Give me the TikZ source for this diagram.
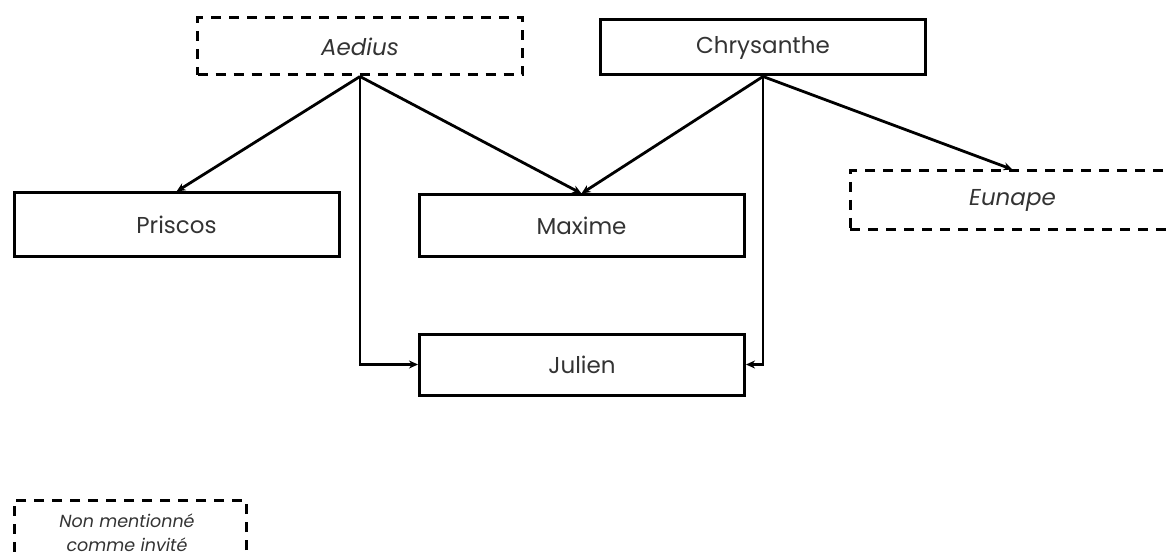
\documentclass[tikz,border=0pt]{standalone}
\usepackage{fontspec}
\setmainfont{Poppins}
\usetikzlibrary{arrows.meta}
\definecolor{txt}{HTML}{333333}
\tikzset{
  person/.style={draw=black, line width=3pt, minimum width=325pt, minimum height=60pt, inner sep=0pt, text=txt, font=\fontsize{23}{26}\selectfont},
  absent/.style={person, dash pattern=on 10pt off 8pt, font=\fontsize{23}{26}\selectfont\itshape},
  link/.style={line width=2.8pt, -{Stealth[length=9pt,width=8pt]}},
}
\begin{document}
\begin{tikzpicture}[x=1pt,y=-1pt]
\useasboundingbox (0,0) rectangle (1167,556);
\begin{scope}
\clip (0,0) rectangle (1167,556);
\node[absent, minimum height=57pt] (aedius) at (360,46.5) {Aedius};
\node[person, minimum height=55pt] (chrys) at (763,47.5) {Chrysanthe};
\node[person, minimum height=63pt] (priscos) at (176.5,224.5) {Priscos};
\node[person, minimum height=61pt] (maxime) at (581.5,225.5) {Maxime};
\node[absent, minimum height=59pt] (eunape) at (1012.5,200.5) {Eunape};
\node[person, minimum height=61pt] (julien) at (582,364.5) {Julien};
\node[absent, minimum width=232pt, minimum height=70pt] (legend) at (130,535) {};
\node[text=txt, align=center, font=\fontsize{17.5}{24}\selectfont\itshape] (legendtext) at (127,533) {Non mentionné\\comme invité};
\end{scope}
\draw[link] (aedius.south) -- (priscos.north);
\draw[link] (aedius.south) -- (maxime.north);
\draw[link] (aedius.south) |- (julien.west);
\draw[link] (chrys.south) -- (maxime.north);
\draw[link] (chrys.south) -- (eunape.north);
\draw[link] (chrys.south) |- (julien.east);
\end{tikzpicture}
\end{document}
